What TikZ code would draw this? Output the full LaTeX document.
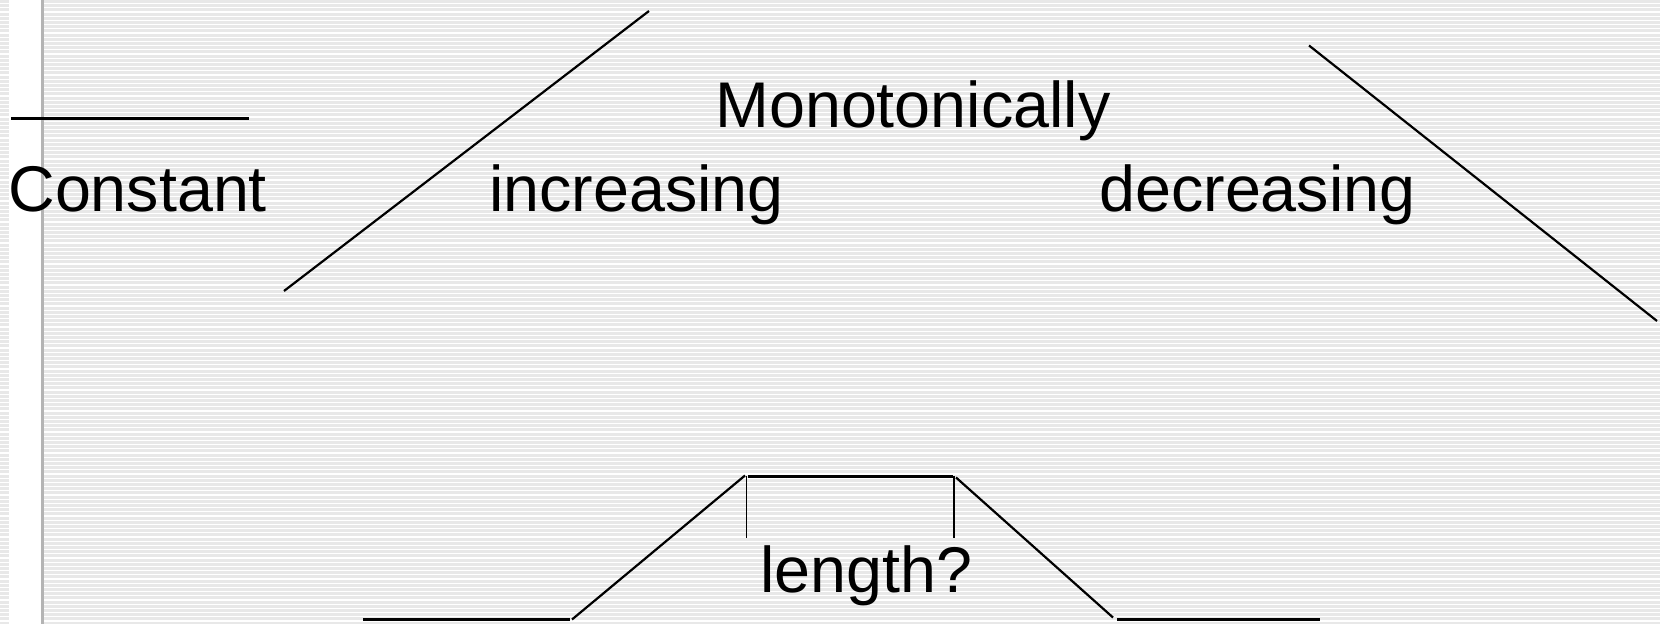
\documentclass[tikz,border=0pt]{standalone}
\usepackage{fontspec}
\setmainfont{Liberation Sans}
\usetikzlibrary{positioning}

\definecolor{stripe}{HTML}{E8E8E8}
\definecolor{rule}{HTML}{B4B4B4}

\tikzset{
  word/.style={anchor=base west, inner sep=0pt, font=\fontsize{32.3}{38}\selectfont},
  trace/.style={line width=1.1pt, black},
  tick/.style={line width=0.8pt, black}
}

\begin{document}
\begin{tikzpicture}[x=0.5pt,y=-0.5pt]
\useasboundingbox (0,0) rectangle (1660,624);

% striped slide background
\fill[white] (0,0) rectangle (1660,624);
\foreach \y in {0,4.2,...,624}
  \fill[stripe] (0,\y) rectangle (1660,\y+3);
\fill[white] (9,0) rectangle (41,624);
\fill[rule] (41,0) rectangle (44,624);

% labels
\node[word] (const) at (8,212) {Constant};
\node[word] (mono) at (715,128) {Monotonically};
\node[word] (incr) at (489,212) {increasing};
\node[word] (decr) at (1099,212) {decreasing};
\node[word] (len) at (760,593) {length?};

% top row of shapes
\coordinate (c1) at (11,118.5);
\coordinate (c2) at (249,118.5);
\coordinate (i1) at (284,291);
\coordinate (i2) at (649,11);
\coordinate (d1) at (1309,45.5);
\coordinate (d2) at (1657,321);

\draw[trace] (c1) -- (c2);
\draw[trace] (i1) -- (i2);
\draw[trace] (d1) -- (d2);

% pulse at the bottom
\coordinate (p1) at (363,619.5);
\coordinate (p2) at (570,619.5);
\coordinate (p3) at (572,619.5);
\coordinate (p4) at (745,475.5);
\coordinate (p5) at (748,476.5);
\coordinate (p6) at (953,476.5);
\coordinate (p7) at (956,477.5);
\coordinate (p8) at (1113,617.5);
\coordinate (p9) at (1117,619.5);
\coordinate (p10) at (1320,619.5);

\draw[trace] (p1) -- (p2);
\draw[trace] (p3) -- (p4);
\draw[trace] (p5) -- (p6);
\draw[trace] (p7) -- (p8);
\draw[trace] (p9) -- (p10);

\coordinate (t1) at (746.5,476);
\coordinate (t2) at (746.5,538);
\coordinate (t3) at (954,476);
\coordinate (t4) at (954,538);
\draw[tick] (t1) -- (t2);
\draw[tick] (t3) -- (t4);

\end{tikzpicture}
\end{document}
